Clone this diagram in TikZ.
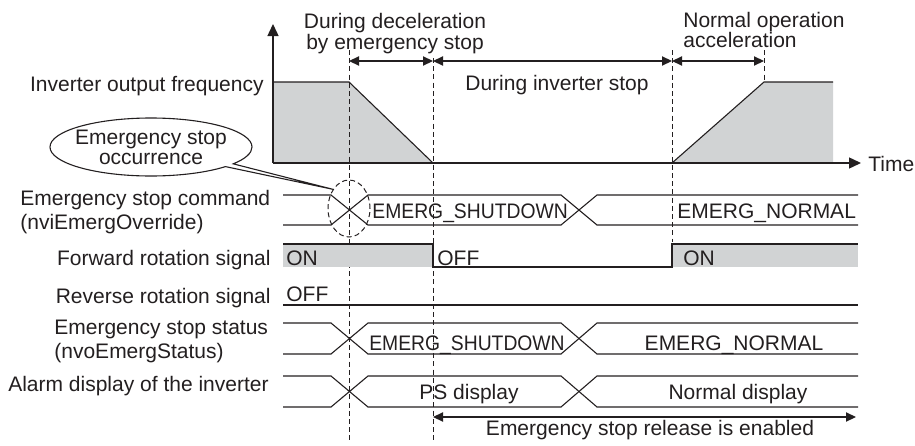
\documentclass[tikz,border=0pt]{standalone}
\usepackage{fontspec}
\setmainfont{Liberation Sans}
\usepackage{graphicx}
\usetikzlibrary{positioning,calc,shapes,shapes.callouts,arrows.meta}
\definecolor{ink}{HTML}{231F20}
\definecolor{fillgray}{HTML}{D1D3D4}
\tikzstyle{txt}=[inner sep=0pt, text=ink, font=\fontsize{10.5}{12}\selectfont]
\tikzstyle{wave}=[draw=ink, line width=0.55pt]
\tikzstyle{guide}=[draw=ink, line width=0.5pt, dash pattern=on 2.5pt off 1.6pt]
\tikzstyle{span}=[draw=ink, line width=0.6pt, {Triangle[length=5pt,width=4.6pt]}-{Triangle[length=5pt,width=4.6pt]}]
\tikzstyle{axis}=[draw=ink, line width=0.7pt, -{Triangle[length=6pt,width=5.5pt]}]

\begin{document}
\begin{tikzpicture}[x=0.5pt, y=-0.5pt]
				\useasboundingbox (0,0) rectangle (915,445);
				% output frequency
				\fill[fillgray] (273,82) -- (349,82) -- (433,163) -- (273,163) -- cycle;
				\fill[fillgray] (672,163) -- (764,82) -- (833,82) -- (833,163) -- cycle;
				\draw[wave] (273,82) -- (349,82) -- (433,163);
				\draw[wave] (672,163) -- (764,82) -- (833,82);
				\coordinate (o) at (273,163);
				\coordinate (ytop) at (273,24);
				\coordinate (xend) at (861,163);
				\draw[axis] (o) -- (ytop);
				\draw[axis] (o) -- (xend);
				\node[txt, anchor=base west] (time) at (868,171) {Time};
				\node[txt, anchor=base east] (freq) at (264,91) {Inverter output frequency};
				% time marks
				\coordinate (t1top) at (349,50);
				\coordinate (t1bot) at (349,443);
				\coordinate (t2top) at (433,58);
				\coordinate (t2bot) at (433,443);
				\coordinate (t3top) at (672,50);
				\coordinate (t3bot) at (672,242);
				\coordinate (t4top) at (764,50);
				\coordinate (t4bot) at (764,82);
				\draw[guide] (t1top) -- (t1bot);
				\draw[guide] (t2top) -- (t2bot);
				\draw[guide] (t3top) -- (t3bot);
				\draw[guide] (t4top) -- (t4bot);
				\coordinate (s1) at (349,61);
				\coordinate (s2) at (433,61);
				\coordinate (s3) at (672,61);
				\coordinate (s4) at (764,61);
				\draw[span] (s1) -- (s2);
				\draw[span] (s2) -- (s3);
				\draw[span] (s3) -- (s4);
				\node[txt, anchor=north, align=center, font=\fontsize{10.5}{10.5}\selectfont] (decel) at (395,13) {During deceleration\\by emergency stop};
				\node[txt, anchor=north west, align=left, font=\fontsize{10.5}{10}\selectfont] (accel) at (683,12) {Normal operation\\acceleration};
				\node[txt, anchor=base] (stopped) at (557,90) {During inverter stop};
				% occurrence
				\node[guide, ellipse, minimum width=21pt, minimum height=28.5pt, inner sep=0pt] (mark) at (349,208.5) {};
				\node[txt, ellipse callout, draw=ink, line width=0.55pt, inner xsep=-3pt, inner ysep=0pt, minimum width=101pt, minimum height=29pt, callout pointer arc=7, callout absolute pointer={(mark.130)}, align=center, font=\fontsize{10.5}{10}\selectfont] (occ) at (151,147) {Emergency stop\\occurrence};
				% emergency stop command
				\node[txt, anchor=north west, align=left] (cmd) at (20,190) {Emergency stop command\\(nviEmergOverride)};
				\draw[wave] (283,195) -- (331,195) -- (368,225) -- (561,225) -- (597,195) -- (858,195);
				\draw[wave] (283,225) -- (331,225) -- (368,195) -- (561,195) -- (597,225) -- (858,225);
				\node[txt, anchor=base west] (cmdsd) at (372,218) {\scalebox{0.92}[1]{EMERG\_SHUTDOWN}};
				\node[txt, anchor=base west] (cmdnm) at (677,218) {EMERG\_NORMAL};
				% forward rotation
				\node[txt, anchor=base east] (fwd) at (271,265) {Forward rotation signal};
				\fill[fillgray] (283,244) rectangle (433,267);
				\fill[fillgray] (672,244) rectangle (858,267);
				\draw[wave] (283,244) -- (433,244) -- (433,267) -- (672,267) -- (672,244) -- (858,244);
				\node[txt, anchor=base west] (fwdon) at (286,265) {ON};
				\node[txt, anchor=base west] (fwdoff) at (437,265) {OFF};
				\node[txt, anchor=base west] (fwdon2) at (683,265) {ON};
				% reverse rotation
				\node[txt, anchor=base east] (rev) at (271,303) {Reverse rotation signal};
				\draw[wave] (283,305) -- (858,305);
				\node[txt, anchor=base west] (revoff) at (286,301) {OFF};
				% emergency stop status
				\node[txt, anchor=north west, align=left] (sts) at (54,320) {Emergency stop status\\(nvoEmergStatus)};
				\draw[wave] (283,323) -- (331,323) -- (368,354) -- (561,354) -- (597,323) -- (858,323);
				\draw[wave] (283,354) -- (331,354) -- (368,323) -- (561,323) -- (597,354) -- (858,354);
				\node[txt, anchor=base] (stssd) at (467,350) {\scalebox{0.92}[1]{EMERG\_SHUTDOWN}};
				\node[txt, anchor=base] (stsnm) at (734,350) {EMERG\_NORMAL};
				% alarm display
				\node[txt, anchor=base east] (alm) at (269,391) {Alarm display of the inverter};
				\draw[wave] (283,376) -- (331,376) -- (368,407) -- (561,407) -- (597,376) -- (858,376);
				\draw[wave] (283,407) -- (331,407) -- (368,376) -- (561,376) -- (597,407) -- (858,407);
				\node[txt, anchor=base] (almps) at (469,399) {PS display};
				\node[txt, anchor=base] (almnm) at (738,399) {Normal display};
				% release
				\coordinate (r1) at (433,417);
				\coordinate (r2) at (856,417);
				\draw[span] (r1) -- (r2);
				\node[txt, anchor=base] (rel) at (650,435) {Emergency stop release is enabled};
			\end{tikzpicture}
\end{document}
